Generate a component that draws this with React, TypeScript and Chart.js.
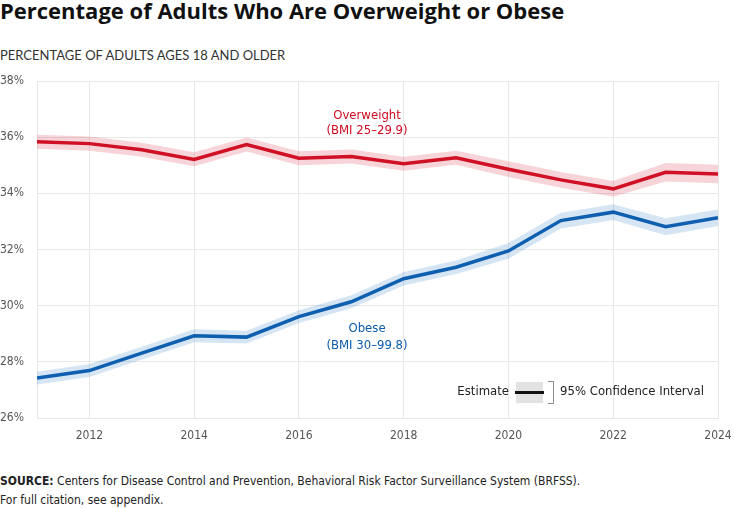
import React, { useEffect, useRef } from "react";
import { Chart, registerables } from "chart.js";

Chart.register(...registerables);

// Survey years and estimates (percent of adults 18+)
const years = [2011, 2012, 2013, 2014, 2015, 2016, 2017, 2018, 2019, 2020, 2021, 2022, 2023, 2024];
const xTickYears = [2012, 2014, 2016, 2018, 2020, 2022, 2024];

const overweight = [35.84, 35.77, 35.55, 35.21, 35.74, 35.25, 35.31, 35.05, 35.27, 34.86, 34.48, 34.16, 34.75, 34.69];
const overweightLow = [35.59, 35.52, 35.3, 34.96, 35.49, 35.0, 35.06, 34.8, 35.02, 34.58, 34.2, 33.88, 34.42, 34.36];
const overweightHigh = [36.09, 36.02, 35.8, 35.46, 35.99, 35.5, 35.56, 35.3, 35.52, 35.14, 34.76, 34.44, 35.08, 35.02];

const obese = [27.42, 27.69, 28.31, 28.93, 28.88, 29.61, 30.14, 30.96, 31.37, 31.95, 33.03, 33.33, 32.81, 33.13];
const obeseLow = [27.19, 27.46, 28.08, 28.7, 28.65, 29.38, 29.91, 30.72, 31.13, 31.67, 32.75, 33.05, 32.51, 32.84];
const obeseHigh = [27.65, 27.92, 28.54, 29.16, 29.11, 29.84, 30.37, 31.2, 31.61, 32.23, 33.31, 33.61, 33.11, 33.42];

const RED = "#cf0a20";
const RED_BAND = "rgba(214, 40, 60, 0.2)";
const BLUE = "#0b5cad";
const BLUE_BAND = "rgba(30, 110, 190, 0.18)";
const GRID = "#e8e8e8";
const NARROW = '"DejaVu Sans Condensed", "DejaVu Sans", sans-serif';

const pts = (vals: number[]) => years.map((y, i) => ({ x: y, y: vals[i] }));

// Series labels and the estimate / confidence-interval key
const labelsPlugin = {
  id: "seriesLabels",
  afterDatasetsDraw(chart: any) {
    const { ctx, scales, chartArea } = chart;
    const xs = scales.x;
    const ys = scales.y;
    ctx.save();
    ctx.font = `13px ${NARROW}`;
    ctx.textAlign = "center";
    ctx.textBaseline = "middle";
    const cx = xs.getPixelForValue(2017.3);
    ctx.fillStyle = RED;
    ctx.fillText("Overweight", cx, ys.getPixelForValue(36.75));
    ctx.fillText("(BMI 25–29.9)", cx, ys.getPixelForValue(36.22));
    ctx.fillStyle = BLUE;
    ctx.fillText("Obese", cx, ys.getPixelForValue(29.18));
    ctx.fillText("(BMI 30–99.8)", cx, ys.getPixelForValue(28.57));

    // key
    const ky = chartArea.bottom - 26;
    const kx = chartArea.right - 202;
    ctx.fillStyle = "#222";
    ctx.textAlign = "right";
    ctx.fillText("Estimate", kx - 7, ky);
    ctx.fillStyle = "#e2e2e2";
    ctx.fillRect(kx, ky - 10, 27, 21);
    ctx.strokeStyle = "#111";
    ctx.lineWidth = 3;
    ctx.beginPath();
    ctx.moveTo(kx - 1, ky + 0.5);
    ctx.lineTo(kx + 28, ky + 0.5);
    ctx.stroke();
    ctx.strokeStyle = "#8a8a8a";
    ctx.lineWidth = 1;
    ctx.beginPath();
    ctx.moveTo(kx + 32, ky - 10.5);
    ctx.lineTo(kx + 37.5, ky - 10.5);
    ctx.lineTo(kx + 37.5, ky + 11.5);
    ctx.lineTo(kx + 32, ky + 11.5);
    ctx.stroke();
    ctx.fillStyle = "#222";
    ctx.textAlign = "left";
    ctx.fillText("95% Confidence Interval", kx + 44, ky);
    ctx.restore();
  },
};

function ObesityChart() {
  const ref = useRef<HTMLCanvasElement>(null);
  useEffect(() => {
    if (!ref.current) return;
    const band = (vals: number[], color: string, fill: any) => ({
      data: pts(vals),
      borderWidth: 0,
      pointRadius: 0,
      backgroundColor: color,
      fill,
    });
    const line = (vals: number[], color: string) => ({
      data: pts(vals),
      borderColor: color,
      borderWidth: 3.5,
      pointRadius: 0,
      fill: false,
      borderJoinStyle: "miter" as const,
    });
    const chart = new Chart(ref.current, {
      type: "line",
      data: {
        datasets: [
          band(overweightHigh, RED_BAND, "+1"),
          band(overweightLow, RED_BAND, false),
          band(obeseHigh, BLUE_BAND, "+1"),
          band(obeseLow, BLUE_BAND, false),
          line(overweight, RED),
          line(obese, BLUE),
        ] as any,
      },
      options: {
        animation: false,
        responsive: false,
        events: [],
        layout: { padding: { top: 11, right: 16, left: 0, bottom: 0 } },
        plugins: { legend: { display: false }, tooltip: { enabled: false } },
        scales: {
          x: {
            type: "linear",
            min: 2011,
            max: 2024,
            afterBuildTicks: (scale: any) => {
              scale.ticks = xTickYears.map((v) => ({ value: v }));
            },
            afterFit: (scale: any) => {
              scale.height = 32;
              scale.paddingLeft = 0;
              scale.paddingRight = 0;
            },
            grid: { color: GRID, drawTicks: false },
            border: { color: GRID },
            ticks: {
              padding: 11,
              color: "#555",
              font: { family: NARROW, size: 12 },
              maxRotation: 0,
              callback: (v: any) => String(v),
            },
          },
          y: {
            min: 26,
            max: 38,
            afterFit: (scale: any) => {
              scale.width = 37;
              scale.paddingTop = 0;
              scale.paddingBottom = 0;
            },
            grid: { color: GRID, drawTicks: false },
            border: { color: GRID },
            ticks: {
              stepSize: 2,
              padding: 13,
              color: "#555",
              font: { family: NARROW, size: 12 },
              callback: (v: any) => `${v}%`,
            },
          },
        },
      },
      plugins: [labelsPlugin],
    });
    return () => chart.destroy();
  }, []);
  return <canvas ref={ref} width={734} height={380} style={{ position: "absolute", left: 0, top: 70 }} />;
}

export default function App() {
  return (
    <div style={{ position: "absolute", left: 0, top: 0, width: 734, height: 508, background: "#fff", color: "#111" }}>
      <div
        style={{
          position: "absolute",
          left: 0,
          top: -4,
          fontFamily: '"Open Sans", sans-serif',
          fontWeight: 700,
          fontSize: 22,
          lineHeight: "28px",
          whiteSpace: "nowrap",
        }}
      >
        Percentage of Adults Who Are Overweight or Obese
      </div>
      <div
        style={{
          position: "absolute",
          left: 0,
          top: 46,
          fontFamily: "Lato, sans-serif",
          fontSize: 13,
          lineHeight: "18px",
          color: "#333",
          whiteSpace: "nowrap",
        }}
      >
        PERCENTAGE OF ADULTS AGES 18 AND OLDER
      </div>
      <ObesityChart />
      <div
        style={{
          position: "absolute",
          left: 0,
          top: 472,
          fontFamily: NARROW,
          fontSize: 12,
          lineHeight: "19px",
          color: "#222",
          whiteSpace: "nowrap",
        }}
      >
        <div>
          <b>SOURCE:</b> Centers for Disease Control and Prevention, Behavioral Risk Factor Surveillance System (BRFSS).
        </div>
        <div>For full citation, see appendix.</div>
      </div>
    </div>
  );
}
